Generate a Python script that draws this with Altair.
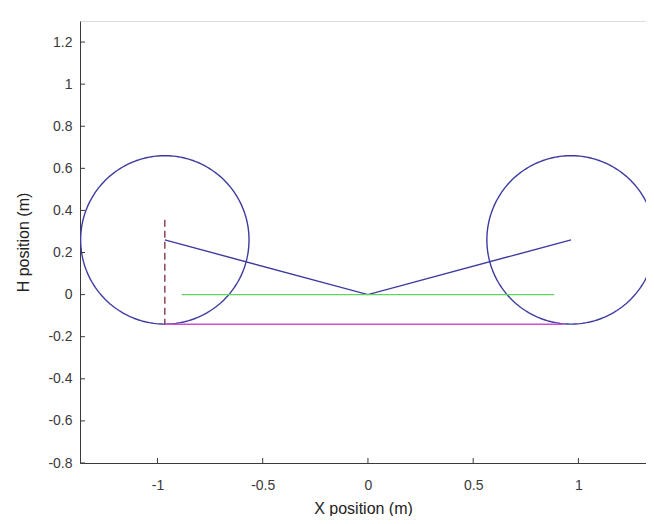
import altair as alt
import numpy as np
import pandas as pd

# --- values ---
wheel_cx = [-0.965, 0.965]
wheel_cy = [0.26, 0.26]
wheel_r = [0.40, 0.40]

link_x = [-0.965, 0.0, 0.965]
link_y = [0.26, 0.0, 0.26]

dash_x = [-0.965, -0.965]
dash_y = [0.356, -0.141]

green_x = [-0.885, 0.885]
green_y = [0.0, 0.0]

magenta_x = [-0.965, 0.93]
magenta_y = [-0.141, -0.141]

x_ticks = [-1, -0.5, 0, 0.5, 1]
y_ticks = [-0.8, -0.6, -0.4, -0.2, 0, 0.2, 0.4, 0.6, 0.8, 1.0, 1.2]

x_domain = [-1.368, 1.321]
y_domain = [-0.8, 1.3]

W, H = 566, 442
AX = "#3a3a3a"
FONT = "Liberation Sans"

# circle outlines from centre and radius
rows = []
ang = np.linspace(0, 2 * np.pi, 241)
for i, (cx, cy, r) in enumerate(zip(wheel_cx, wheel_cy, wheel_r)):
    for k, a in enumerate(ang):
        rows.append({"wheel": i, "order": k, "x": cx + r * np.cos(a), "y": cy + r * np.sin(a)})
circles = pd.DataFrame(rows)

link = pd.DataFrame({"x": link_x, "y": link_y, "order": range(len(link_x))})
dash = pd.DataFrame({"x": dash_x, "y": dash_y})
green = pd.DataFrame({"x": green_x, "y": green_y})
magenta = pd.DataFrame({"x": magenta_x, "y": magenta_y})

xs = alt.Scale(domain=x_domain, nice=False, zero=False)
ys = alt.Scale(domain=y_domain, nice=False, zero=False)

x_axis = alt.Axis(values=x_ticks, ticks=False, grid=False, domainColor=AX,
                  labelColor=AX, labelFont=FONT, labelFontSize=14, labelPadding=15,
                  title="X position (m)", titleFont=FONT, titleFontSize=16,
                  titleFontWeight="normal", titleColor="#222222", titlePadding=8,
                  labelFlush=False, labelExpr="'' + datum.value")
y_axis = alt.Axis(values=y_ticks, ticks=False, grid=False, domainColor=AX,
                  labelColor=AX, labelFont=FONT, labelFontSize=14, labelPadding=8,
                  title="H position (m)", titleFont=FONT, titleFontSize=16,
                  titleFontWeight="normal", titleColor="#222222", titlePadding=16,
                  labelFlush=False, labelExpr="'' + datum.value")

base_x = alt.X("x:Q", scale=xs, axis=x_axis)
base_y = alt.Y("y:Q", scale=ys, axis=y_axis)

circle_layer = alt.Chart(circles).mark_line(color="#3c3ca0", strokeWidth=1.4, clip=True).encode(
    x=base_x, y=base_y, detail="wheel:N", order="order:Q")
link_layer = alt.Chart(link).mark_line(color="#3c3ca0", strokeWidth=1.4, clip=True).encode(
    x=alt.X("x:Q", scale=xs), y=alt.Y("y:Q", scale=ys), order="order:Q")
green_layer = alt.Chart(green).mark_line(color="#5fd45f", strokeWidth=1.3, clip=True).encode(
    x=alt.X("x:Q", scale=xs), y=alt.Y("y:Q", scale=ys))
magenta_layer = alt.Chart(magenta).mark_line(color="#d050d0", strokeWidth=1.5, clip=True).encode(
    x=alt.X("x:Q", scale=xs), y=alt.Y("y:Q", scale=ys))
dash_layer = alt.Chart(dash).mark_line(color="#86384a", strokeWidth=1.4, strokeDash=[7, 4], clip=True).encode(
    x=alt.X("x:Q", scale=xs), y=alt.Y("y:Q", scale=ys))

# inward tick marks (MATLAB style)
xt = pd.DataFrame({"x": x_ticks})
yt = pd.DataFrame({"y": y_ticks})
xtick_layer = alt.Chart(xt).mark_rule(color=AX, strokeWidth=1).encode(
    x=alt.X("x:Q", scale=xs), y=alt.value(H), y2=alt.value(H - 5))
ytick_layer = alt.Chart(yt).mark_rule(color=AX, strokeWidth=1).encode(
    y=alt.Y("y:Q", scale=ys), x=alt.value(0), x2=alt.value(5))

chart = alt.layer(
    circle_layer, link_layer, green_layer, magenta_layer, dash_layer, xtick_layer, ytick_layer
).properties(
    width=W, height=H,
    autosize=alt.AutoSizeParams(type="none"),
    padding={"left": 72, "top": 13, "right": 0, "bottom": 53},
).configure_view(stroke=None).configure(background="white")

chart.save("out.html", embed_options={"renderer": "svg", "actions": False})
